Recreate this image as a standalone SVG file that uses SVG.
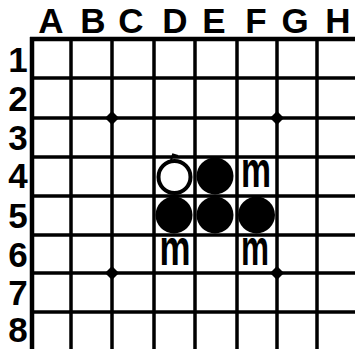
<svg xmlns="http://www.w3.org/2000/svg" width="355" height="349" viewBox="0 0 355 349">
<style>
.lbl{font-family:"Liberation Sans",Arial,sans-serif;font-weight:bold;font-size:35px;fill:#000;text-anchor:middle}
.m{font-family:"Liberation Sans",Arial,sans-serif;font-weight:bold;font-size:50px;fill:#000;text-anchor:middle}
.grid line{stroke:#000;stroke-width:3.5}
.black{fill:#000}
.white{fill:#fff;stroke:#000;stroke-width:4}
</style>
<rect width="355" height="349" fill="#fff"/>
<g id="grid" class="grid">
<line x1="30" y1="39" x2="355" y2="39" style="stroke-width:4.5"/>
<line x1="32" y1="78" x2="355" y2="78"/>
<line x1="32" y1="118" x2="355" y2="118"/>
<line x1="32" y1="157" x2="355" y2="157"/>
<line x1="32" y1="196" x2="355" y2="196"/>
<line x1="32" y1="235" x2="355" y2="235"/>
<line x1="32" y1="273" x2="355" y2="273"/>
<line x1="32" y1="312" x2="355" y2="312"/>
<line x1="32" y1="37" x2="32" y2="349" style="stroke-width:4.5"/>
<line x1="71" y1="39" x2="71" y2="349"/>
<line x1="112" y1="39" x2="112" y2="349"/>
<line x1="154" y1="39" x2="154" y2="349"/>
<line x1="195" y1="39" x2="195" y2="349"/>
<line x1="237" y1="39" x2="237" y2="349"/>
<line x1="277" y1="39" x2="277" y2="349"/>
<line x1="317" y1="39" x2="317" y2="349"/>
</g>
<g id="star-points">
<polygon points="112,111 119,118 112,125 105,118"/>
<polygon points="277,111 284,118 277,125 270,118"/>
<polygon points="112,266 119,273 112,280 105,273"/>
<polygon points="277,266 284,273 277,280 270,273"/>
</g>
<g id="col-labels">
<text class="lbl" x="51" y="33">A</text>
<text class="lbl" x="93" y="33">B</text>
<text class="lbl" x="131" y="33">C</text>
<text class="lbl" x="175" y="33">D</text>
<text class="lbl" x="214" y="33">E</text>
<text class="lbl" x="256" y="33">F</text>
<text class="lbl" x="295" y="33">G</text>
<text class="lbl" x="338" y="33">H</text>
</g>
<g id="row-labels">
<text class="lbl" x="18" y="72">1</text>
<text class="lbl" x="18" y="111">2</text>
<text class="lbl" x="18" y="150">3</text>
<text class="lbl" x="18" y="188">4</text>
<text class="lbl" x="18" y="228">5</text>
<text class="lbl" x="18" y="267">6</text>
<text class="lbl" x="18" y="305">7</text>
<text class="lbl" x="18" y="342">8</text>
</g>
<g id="stone-D4">
<circle class="white" cx="174.5" cy="177" r="16"/>
<path d="M171 160 L173 154.5 L178 156" fill="none" stroke="#000" stroke-width="2"/>
</g>
<g id="stone-E4"><circle class="black" cx="215" cy="176" r="18.5"/></g>
<g id="stone-D5"><circle class="black" cx="174" cy="215" r="18.5"/></g>
<g id="stone-E5"><circle class="black" cx="215" cy="215" r="18.5"/></g>
<g id="stone-F5"><circle class="black" cx="256.5" cy="215" r="18.5"/></g>
<g id="mark-F4"><text class="m" x="256" y="187" textLength="30" lengthAdjust="spacingAndGlyphs">m</text></g>
<g id="mark-D6"><text class="m" x="175" y="265" textLength="31" lengthAdjust="spacingAndGlyphs">m</text></g>
<g id="mark-F6"><text class="m" x="255" y="265" textLength="28" lengthAdjust="spacingAndGlyphs">m</text></g>
</svg>
